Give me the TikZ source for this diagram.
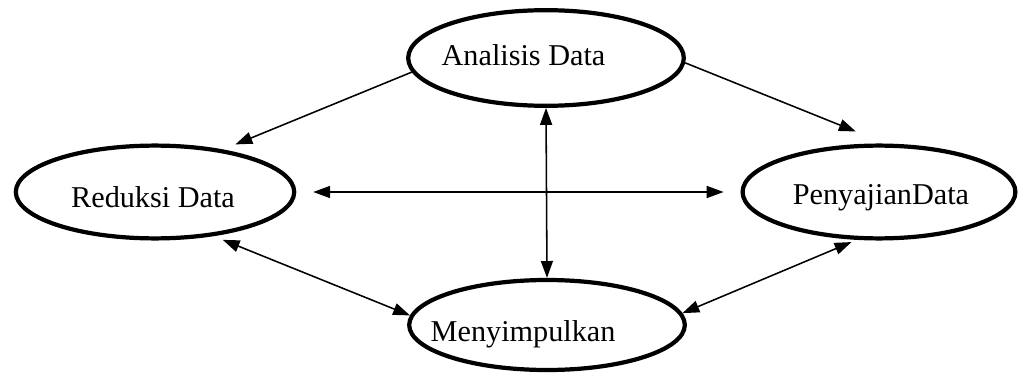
\documentclass[tikz,border=0pt]{standalone}
\usepackage{fontspec}
\setmainfont{Liberation Serif}
\usepackage{tikz}
\usetikzlibrary{shapes,arrows.meta,positioning}
\tikzstyle{tahap} = [draw, ellipse, line width=3pt, inner sep=0pt, minimum width=196pt, minimum height=66pt]
\tikzstyle{teks} = [font=\fontsize{21.5}{25}\selectfont, inner sep=0pt, text height=14pt, text depth=0pt]
\tikzstyle{alur} = [line width=1.1pt, >={Triangle[length=12pt,width=8.5pt]}]

\begin{document}
\begin{tikzpicture}[x=0.025cm,y=0.025cm]
\useasboundingbox (0,0) rectangle (1019,376);
% empat tahap analisis
\node [tahap, minimum height=68pt, label={[teks, xshift=-16pt, yshift=2pt]center:Analisis Data}] (ana) at (546,318) {};
\node [tahap, minimum width=198pt, label={[teks, xshift=-1.4pt, yshift=-3.9pt]center:Reduksi Data}] (red) at (155,184) {};
\node [tahap, minimum width=194pt, label={[teks, xshift=1.4pt, yshift=-2.1pt]center:PenyajianData}] (pen) at (879,184) {};
\node [tahap, minimum height=64pt, label={[teks, xshift=-17pt, yshift=-5pt]center:Menyimpulkan}] (men) at (547,51) {};
% alur
\draw [alur, ->, shorten >=9.5pt] (ana.186) -- (red.32);
\draw [alur, ->, shorten >=23pt] (ana.358) -- (pen.82);
\draw [alur, <->, shorten <=12pt, shorten >=12pt] (red.east) -- (pen.west);
\draw [alur, <->] (ana.south) -- (men.north);
\draw [alur, <->, shorten <=7pt] (red.-37) -- (men.176);
\draw [alur, <->, shorten >=4pt] (men.5) -- (pen.245);
\end{tikzpicture}
\end{document}
